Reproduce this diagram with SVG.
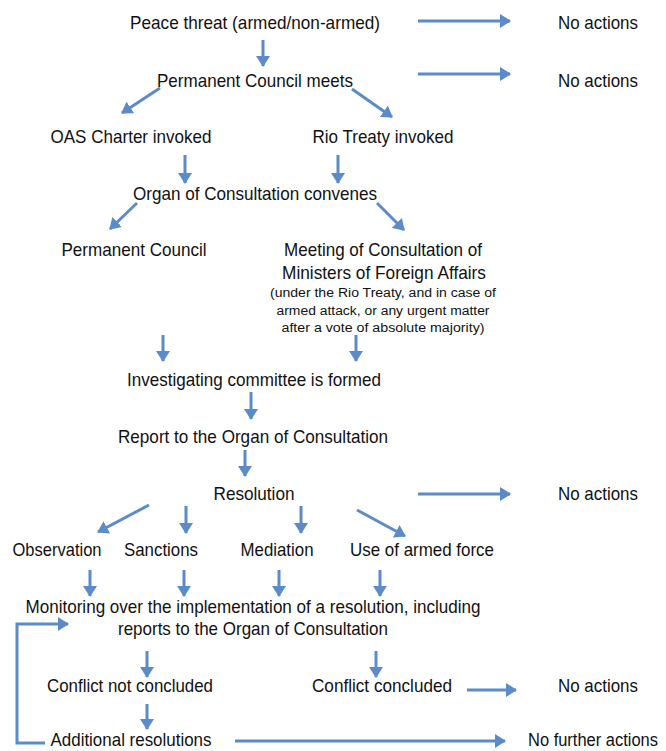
<svg xmlns="http://www.w3.org/2000/svg" width="666" height="751" viewBox="0 0 666 751">
<style>
text{font-family:"Liberation Sans",Arial,sans-serif;font-size:18.5px;fill:#111;text-anchor:middle;}
text.s{font-size:12.5px;}
text.e{font-size:17.5px;}
.c line,.c polyline{stroke:#5b8bc9;stroke-width:3;fill:none;marker-end:url(#ah);}
</style>
<defs>
<marker id="ah" markerUnits="userSpaceOnUse" markerWidth="12" markerHeight="14" refX="10" refY="7" orient="auto">
<path d="M0,0 L11,7 L0,14 Z" fill="#5b8bc9"/>
</marker>
</defs>
<rect width="666" height="751" fill="#fff"/>
<g class="c" id="connectors">
<line x1="418" y1="21" x2="510" y2="21"/>
<line x1="418" y1="74" x2="510" y2="74"/>
<line x1="418" y1="494" x2="510" y2="494"/>
<line x1="467" y1="690" x2="516" y2="690"/>
<line x1="235" y1="741" x2="505" y2="741"/>
<line x1="263" y1="40" x2="263" y2="66"/>
<line x1="160" y1="88" x2="122" y2="113"/>
<line x1="352" y1="89" x2="392" y2="117"/>
<line x1="185" y1="155" x2="185" y2="183"/>
<line x1="338" y1="155" x2="338" y2="183"/>
<line x1="137" y1="203" x2="110" y2="229"/>
<line x1="377" y1="203" x2="404" y2="230"/>
<line x1="163" y1="335" x2="163" y2="361"/>
<line x1="356" y1="335" x2="356" y2="361"/>
<line x1="251" y1="392" x2="251" y2="419"/>
<line x1="245" y1="450" x2="245" y2="476"/>
<line x1="149" y1="505" x2="98" y2="532"/>
<line x1="186" y1="506" x2="186" y2="533"/>
<line x1="301" y1="506" x2="301" y2="533"/>
<line x1="357" y1="510" x2="405" y2="536"/>
<line x1="90" y1="570" x2="90" y2="596"/>
<line x1="184" y1="570" x2="184" y2="596"/>
<line x1="279" y1="570" x2="279" y2="596"/>
<line x1="380" y1="570" x2="380" y2="596"/>
<line x1="147" y1="651" x2="147" y2="677"/>
<line x1="376" y1="651" x2="376" y2="677"/>
<line x1="147" y1="704" x2="147" y2="729"/>
<polyline points="45,743 17,743 17,624 68,624"/>
</g>
<g id="peace"><text x="255" y="29" textLength="250" lengthAdjust="spacingAndGlyphs">Peace threat (armed/non-armed)</text></g>
<g id="noact1"><text x="598" y="29" textLength="80" lengthAdjust="spacingAndGlyphs">No actions</text></g>
<g id="pcmeets"><text x="255" y="87" textLength="196" lengthAdjust="spacingAndGlyphs">Permanent Council meets</text></g>
<g id="noact2"><text x="598" y="87" textLength="80" lengthAdjust="spacingAndGlyphs">No actions</text></g>
<g id="oas"><text x="131" y="143" textLength="161" lengthAdjust="spacingAndGlyphs">OAS Charter invoked</text></g>
<g id="rio"><text x="383" y="143" textLength="141" lengthAdjust="spacingAndGlyphs">Rio Treaty invoked</text></g>
<g id="organ"><text x="255" y="200" textLength="244" lengthAdjust="spacingAndGlyphs">Organ of Consultation convenes</text></g>
<g id="pc"><text x="134" y="256" textLength="145" lengthAdjust="spacingAndGlyphs">Permanent Council</text></g>
<g id="meeting">
<text x="383" y="256" textLength="198" lengthAdjust="spacingAndGlyphs">Meeting of Consultation of</text>
<text x="384" y="279" textLength="204" lengthAdjust="spacingAndGlyphs">Ministers of Foreign Affairs</text>
<text class="s" x="383" y="297" textLength="226" lengthAdjust="spacingAndGlyphs">(under the Rio Treaty, and in case of</text>
<text class="s" x="383" y="315" textLength="213" lengthAdjust="spacingAndGlyphs">armed attack, or any urgent matter</text>
<text class="s" x="383" y="332" textLength="203" lengthAdjust="spacingAndGlyphs">after a vote of absolute majority)</text>
</g>
<g id="investigating"><text x="254" y="386" textLength="254" lengthAdjust="spacingAndGlyphs">Investigating committee is formed</text></g>
<g id="report"><text x="253" y="443" textLength="270" lengthAdjust="spacingAndGlyphs">Report to the Organ of Consultation</text></g>
<g id="resolution"><text x="254" y="500" textLength="81" lengthAdjust="spacingAndGlyphs">Resolution</text></g>
<g id="noact3"><text x="598" y="500" textLength="80" lengthAdjust="spacingAndGlyphs">No actions</text></g>
<g id="observation"><text x="57" y="556" textLength="89" lengthAdjust="spacingAndGlyphs">Observation</text></g>
<g id="sanctions"><text x="161" y="556" textLength="74" lengthAdjust="spacingAndGlyphs">Sanctions</text></g>
<g id="mediation"><text x="277" y="556" textLength="73" lengthAdjust="spacingAndGlyphs">Mediation</text></g>
<g id="force"><text x="422" y="556" textLength="144" lengthAdjust="spacingAndGlyphs">Use of armed force</text></g>
<g id="monitoring">
<text x="253" y="613" textLength="455" lengthAdjust="spacingAndGlyphs">Monitoring over the implementation of a resolution, including</text>
<text x="253" y="635" textLength="270" lengthAdjust="spacingAndGlyphs">reports to the Organ of Consultation</text>
</g>
<g id="notconcluded"><text x="130" y="692" textLength="166" lengthAdjust="spacingAndGlyphs">Conflict not concluded</text></g>
<g id="concluded"><text x="382" y="692" textLength="140" lengthAdjust="spacingAndGlyphs">Conflict concluded</text></g>
<g id="noact4"><text x="598" y="692" textLength="80" lengthAdjust="spacingAndGlyphs">No actions</text></g>
<g id="additional"><text x="131" y="746" textLength="161" lengthAdjust="spacingAndGlyphs">Additional resolutions</text></g>
<g id="nofurther"><text class="e" x="593" y="746" textLength="130" lengthAdjust="spacingAndGlyphs">No further actions</text></g>
</svg>
